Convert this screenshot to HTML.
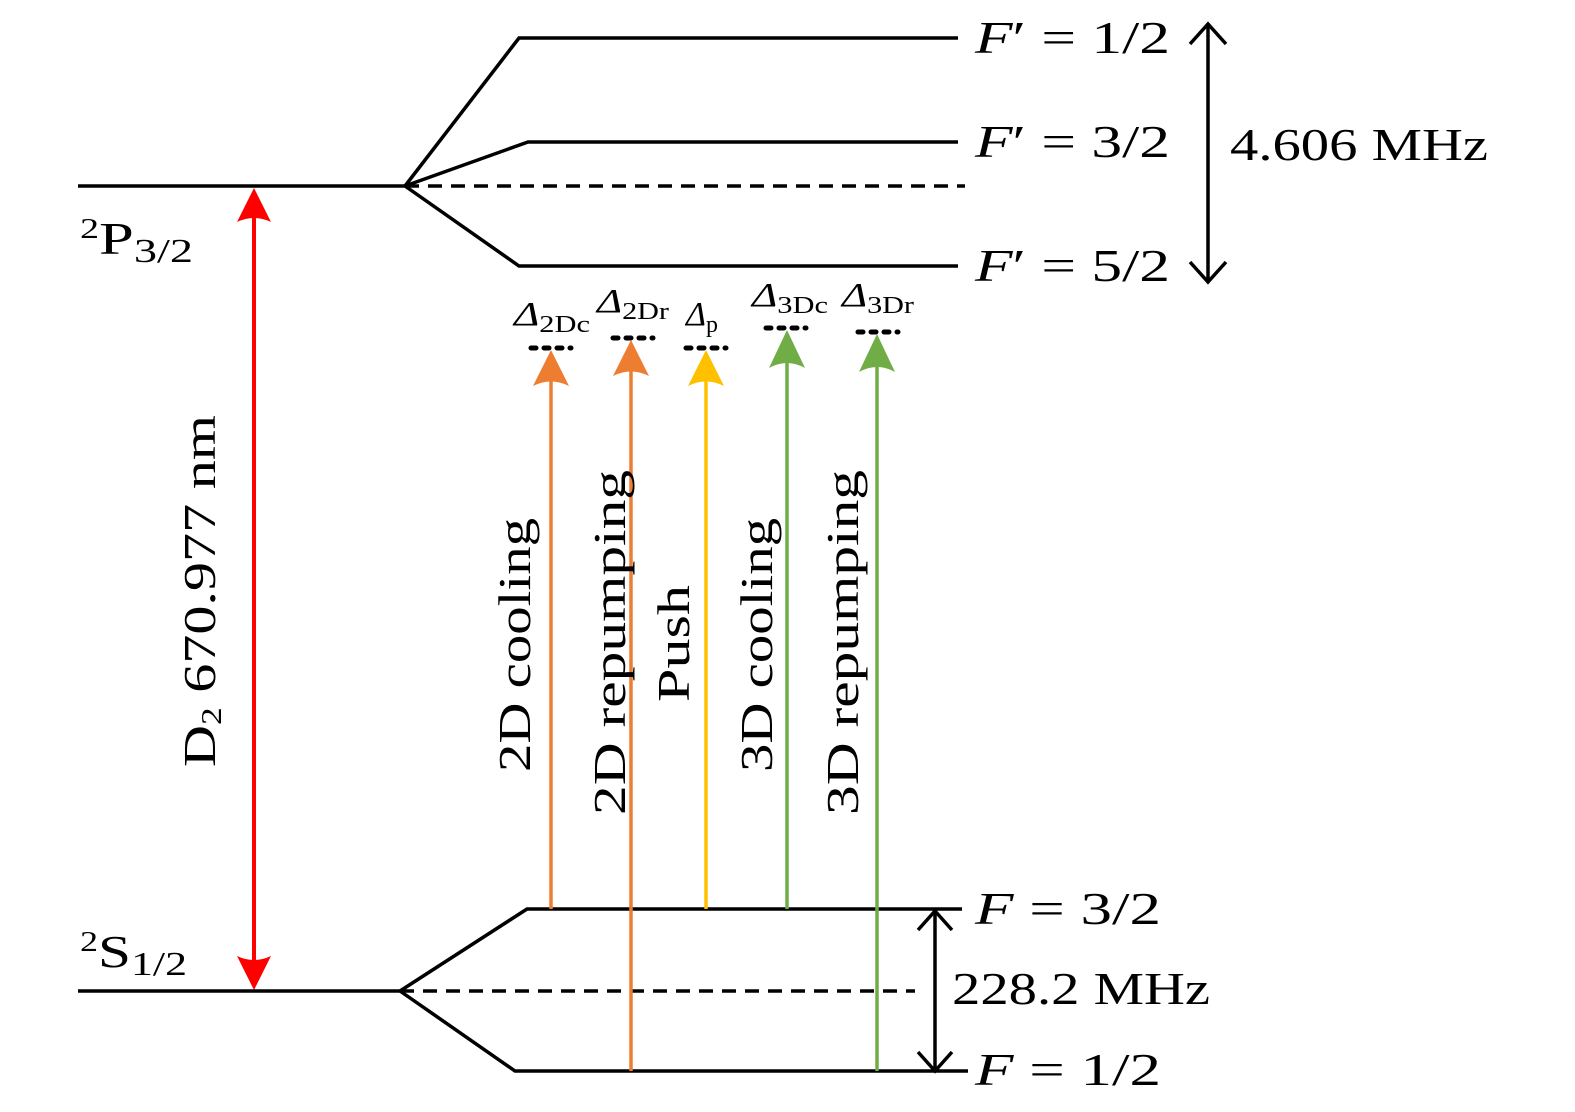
<!DOCTYPE html>
<html><head><meta charset="utf-8"><style>
html,body{margin:0;padding:0;background:#fff;}
svg{display:block;}
text{font-family:"Liberation Serif",serif;fill:#000;}
</style></head><body>
<svg width="1575" height="1112" viewBox="0 0 1575 1112" xmlns="http://www.w3.org/2000/svg">
<g stroke="#000" stroke-width="3.5" fill="none">
<line x1="78" y1="186" x2="405" y2="186"/>
<polyline points="405,186 519,38 958,38"/>
<polyline points="405,186 528,142 958,142"/>
<polyline points="405,186 519,266 958,266"/>
<line x1="405" y1="186" x2="965" y2="186" stroke-dasharray="14,9"/>
<line x1="78" y1="991" x2="400" y2="991"/>
<polyline points="400,991 527,909 962,909"/>
<polyline points="400,991 515,1071 968,1071"/>
<line x1="400" y1="991" x2="915" y2="991" stroke-dasharray="14,9"/>
<line x1="1208" y1="24" x2="1208" y2="282"/>
<polyline points="1190,44 1208,24 1226,44"/>
<polyline points="1190,262 1208,282 1226,262"/>
<line x1="935" y1="911" x2="935" y2="1071"/>
<polyline points="918,930 935,911 952,930"/>
<polyline points="918,1052 935,1071 952,1052"/>
</g>
<g stroke="#000" stroke-width="5" stroke-linecap="round" stroke-dasharray="5,8">
<line x1="531" y1="348" x2="571" y2="348"/>
<line x1="613" y1="338" x2="653" y2="338"/>
<line x1="686" y1="348" x2="726" y2="348"/>
<line x1="766" y1="328" x2="806" y2="328"/>
<line x1="858" y1="332" x2="898" y2="332"/>
</g>
<line x1="254" y1="210" x2="254" y2="970" stroke="#f00" stroke-width="4"/>
<path d="M254,188 L237,222 Q254,214 271,222 Z" fill="#f00"/>
<path d="M254,990 L237,956 Q254,964 271,956 Z" fill="#f00"/>
<g stroke-width="3.5">
<line x1="551" y1="375" x2="551" y2="909" stroke="#ed7d31"/>
<line x1="631" y1="365" x2="631" y2="1071" stroke="#ed7d31"/>
<line x1="706" y1="375" x2="706" y2="909" stroke="#ffc000"/>
<line x1="787" y1="355" x2="787" y2="909" stroke="#70ad47"/>
<line x1="877" y1="358" x2="877" y2="1071" stroke="#70ad47"/>
</g>
<path d="M551,350 L533,386 Q551,377 569,386 Z" fill="#ed7d31"/>
<path d="M631,340 L613,376 Q631,367 649,376 Z" fill="#ed7d31"/>
<path d="M706,350 L688,386 Q706,377 724,386 Z" fill="#ffc000"/>
<path d="M787,330 L769,368 Q787,358 805,368 Z" fill="#70ad47"/>
<path d="M877,334 L859,372 Q877,362 895,372 Z" fill="#70ad47"/>
<g font-size="46">
<text x="975" y="53" textLength="195" lengthAdjust="spacingAndGlyphs"><tspan font-style="italic">F</tspan>′ = 1/2</text>
<text x="975" y="157" textLength="195" lengthAdjust="spacingAndGlyphs"><tspan font-style="italic">F</tspan>′ = 3/2</text>
<text x="975" y="281" textLength="195" lengthAdjust="spacingAndGlyphs"><tspan font-style="italic">F</tspan>′ = 5/2</text>
<text x="975" y="924" textLength="186" lengthAdjust="spacingAndGlyphs"><tspan font-style="italic">F</tspan> = 3/2</text>
<text x="975" y="1085" textLength="186" lengthAdjust="spacingAndGlyphs"><tspan font-style="italic">F</tspan> = 1/2</text>
<text x="1230" y="160" textLength="258" lengthAdjust="spacingAndGlyphs">4.606  MHz</text>
<text x="952" y="1004" textLength="258" lengthAdjust="spacingAndGlyphs">228.2  MHz</text>
<text x="80" y="254" textLength="113" lengthAdjust="spacingAndGlyphs"><tspan font-size="28" dy="-16">2</tspan><tspan dy="16">P</tspan><tspan font-size="34" dy="8">3/2</tspan></text>
<text x="80" y="967" textLength="107" lengthAdjust="spacingAndGlyphs"><tspan font-size="28" dy="-16">2</tspan><tspan dy="16">S</tspan><tspan font-size="34" dy="8">1/2</tspan></text>
<text transform="translate(215,767) rotate(-90)" textLength="352" lengthAdjust="spacingAndGlyphs">D<tspan font-size="28" dy="6">2</tspan><tspan dy="-6"> 670.977 nm</tspan></text>
<text transform="translate(530,772) rotate(-90)" textLength="254" lengthAdjust="spacingAndGlyphs">2D cooling</text>
<text transform="translate(625,815) rotate(-90)" textLength="345" lengthAdjust="spacingAndGlyphs">2D repumping</text>
<text transform="translate(689,702) rotate(-90)" textLength="117" lengthAdjust="spacingAndGlyphs">Push</text>
<text transform="translate(772,772) rotate(-90)" textLength="254" lengthAdjust="spacingAndGlyphs">3D cooling</text>
<text transform="translate(858,815) rotate(-90)" textLength="345" lengthAdjust="spacingAndGlyphs">3D repumping</text>
</g>
<g font-size="34" font-style="italic">
<text x="514" y="325" textLength="76" lengthAdjust="spacingAndGlyphs">Δ<tspan font-style="normal" font-size="24" dy="7">2Dc</tspan></text>
<text x="597" y="312" textLength="72" lengthAdjust="spacingAndGlyphs">Δ<tspan font-style="normal" font-size="24" dy="7">2Dr</tspan></text>
<text x="686" y="325">Δ<tspan font-style="normal" font-size="24" dy="7">p</tspan></text>
<text x="752" y="306" textLength="76" lengthAdjust="spacingAndGlyphs">Δ<tspan font-style="normal" font-size="24" dy="7">3Dc</tspan></text>
<text x="842" y="306" textLength="72" lengthAdjust="spacingAndGlyphs">Δ<tspan font-style="normal" font-size="24" dy="7">3Dr</tspan></text>
</g>
</svg>
</body></html>
